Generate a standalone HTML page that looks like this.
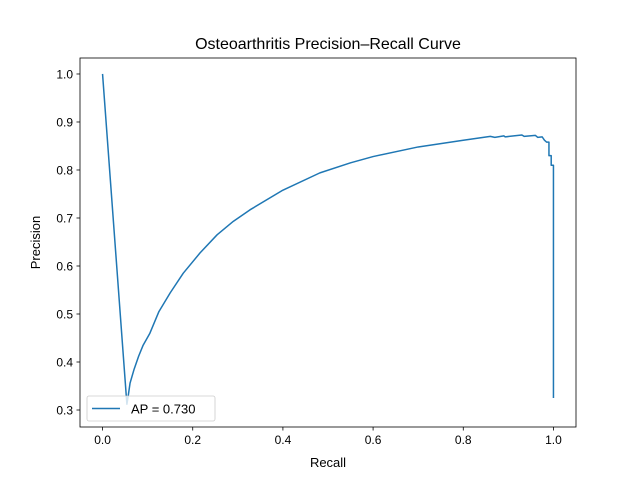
<!DOCTYPE html>
<html><head><meta charset="utf-8"><style>
body{margin:0;background:#fff}
svg{display:block;font-family:"Liberation Sans","DejaVu Sans",sans-serif}
</style></head><body>
<svg id="chart" width="640" height="480" viewBox="0 0 640 480" xmlns="http://www.w3.org/2000/svg">
<rect width="640" height="480" fill="#fff"/>
<text x="328" y="49" text-anchor="middle" font-size="16">Osteoarthritis Precision–Recall Curve</text>
<g id="ticks"></g>
<path id="curve" fill="none" stroke="#1f77b4" stroke-width="1.5" stroke-linejoin="round"/>
<rect x="80" y="58" width="496" height="369" fill="none" stroke="#000" stroke-width="0.8"/>
<text x="328" y="467" text-anchor="middle" font-size="13">Recall</text>
<text transform="translate(40,242.5) rotate(-90)" text-anchor="middle" font-size="13">Precision</text>
<g>
<rect x="87" y="396" width="128" height="25" rx="2" fill="#fff" fill-opacity="0.8" stroke="#ccc" stroke-width="0.8"/>
<line x1="92" y1="408.5" x2="120" y2="408.5" stroke="#1f77b4" stroke-width="1.5"/>
<text x="131" y="413.5" font-size="13">AP = 0.730</text>
</g>
</svg>
<script>
const recall = [0,0.054,0.057,0.061,0.07,0.08,0.09,0.105,0.125,0.15,0.179,0.216,0.254,0.29,0.327,0.4,0.482,0.55,0.6,0.7,0.8,0.86,0.87,0.89,0.893,0.93,0.935,0.96,0.965,0.975,0.98,0.985,0.99,0.99,0.995,0.995,1.0,1.0];
const precision = [1.0,0.312,0.33,0.356,0.385,0.412,0.435,0.46,0.505,0.544,0.585,0.627,0.665,0.693,0.717,0.758,0.794,0.815,0.828,0.848,0.862,0.870,0.868,0.871,0.869,0.873,0.870,0.872,0.868,0.869,0.862,0.858,0.858,0.83,0.83,0.81,0.81,0.325];
const xTicks = [0,0.2,0.4,0.6,0.8,1.0];
const xTickLabels = ["0.0","0.2","0.4","0.6","0.8","1.0"];
const yTicks = [0.3,0.4,0.5,0.6,0.7,0.8,0.9,1.0];
const yTickLabels = ["0.3","0.4","0.5","0.6","0.7","0.8","0.9","1.0"];
const X0=80,X1=576,Y0=427,Y1=58,xmin=-0.05,xmax=1.05,ymin=0.2646,ymax=1.0333;
const sx=v=>X0+(v-xmin)/(xmax-xmin)*(X1-X0);
const sy=v=>Y0-(v-ymin)/(ymax-ymin)*(Y0-Y1);
const NS="http://www.w3.org/2000/svg";
const g=document.getElementById('ticks');
function mk(tag,attrs){const e=document.createElementNS(NS,tag);for(const k in attrs)e.setAttribute(k,attrs[k]);return e;}
xTicks.forEach((t,i)=>{
  const x=sx(t);
  const l=mk('line',{x1:x,x2:x,y1:Y0,y2:Y0+3.5,stroke:'#000','stroke-width':0.8});
  
  
  g.appendChild(l);
  const tx=mk('text',{x:x,y:Y0+17,'text-anchor':'middle','font-size':12});
  
  
  tx.textContent=xTickLabels[i];g.appendChild(tx);
});
yTicks.forEach((t,i)=>{
  const y=sy(t);
  const l=mk('line',{x1:X0-3.5,x2:X0,y1:y,y2:y,stroke:'#000','stroke-width':0.8});
  
  
  g.appendChild(l);
  const tx=mk('text',{x:X0-7,y:y+4.5,'text-anchor':'end','font-size':12});
  
  
  tx.textContent=yTickLabels[i];g.appendChild(tx);
});
document.getElementById('curve').setAttribute('d',recall.map((r,i)=>(i?'L':'M')+sx(r).toFixed(2)+','+sy(precision[i]).toFixed(2)).join(''));
</script>
</body></html>
